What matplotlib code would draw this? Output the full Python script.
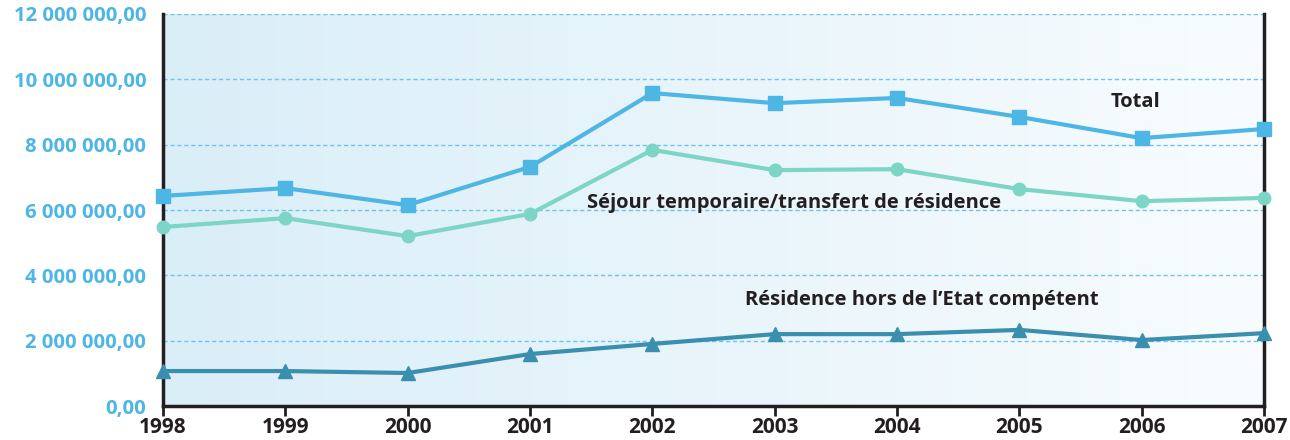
import numpy as np
import matplotlib
matplotlib.use("Agg")
import matplotlib.pyplot as plt
from matplotlib.colors import LinearSegmentedColormap
from matplotlib.ticker import FuncFormatter

years = [1998, 1999, 2000, 2001, 2002, 2003, 2004, 2005, 2006, 2007]
total = [6.43e6, 6.67e6, 6.15e6, 7.32e6, 9.58e6, 9.27e6, 9.43e6, 8.85e6, 8.20e6, 8.48e6]
sejour = [5.48e6, 5.75e6, 5.20e6, 5.88e6, 7.84e6, 7.22e6, 7.25e6, 6.64e6, 6.27e6, 6.37e6]
residence = [1.07e6, 1.07e6, 1.01e6, 1.59e6, 1.90e6, 2.20e6, 2.20e6, 2.33e6, 2.02e6, 2.23e6]
yticks = [0, 2e6, 4e6, 6e6, 8e6, 10e6, 12e6]

plt.rcParams['font.family'] = ['Open Sans', 'DejaVu Sans']
plt.rcParams['font.weight'] = 'bold'

fig = plt.figure(figsize=(12.9, 4.4), dpi=100)
ax = fig.add_axes([163/1290, 34/440, (1264-163)/1290, (406-14)/440])

cmap = LinearSegmentedColormap.from_list('bg', ['#daeef8', '#f8fcfe'])
grad = np.linspace(0, 1, 256).reshape(1, -1)
ax.imshow(grad, cmap=cmap, aspect='auto', extent=[0, 1, 0, 1],
          transform=ax.transAxes, zorder=0)

ax.plot(years, total, color='#4db6e4', lw=3, marker='s', ms=9.5, zorder=3, clip_on=False)
ax.plot(years, sejour, color='#7dd5c5', lw=3, marker='o', ms=9, zorder=3, clip_on=False)
ax.plot(years, residence, color='#3a8eae', lw=3, marker='^', ms=10, zorder=3, clip_on=False)

ax.set_xlim(1998, 2007)
ax.set_ylim(0, 12e6)
ax.set_xticks(years)
ax.set_yticks(yticks)

def fmt(v, pos):
    if v == 0:
        return '0,00'
    s = f"{int(v):,}".replace(',', ' ')
    return s + ',00'
ax.yaxis.set_major_formatter(FuncFormatter(fmt))

ax.grid(axis='y', color='#6cc5ec', linestyle=(0, (3, 2)), lw=1, zorder=1)
ax.set_axisbelow(True)
ax.tick_params(axis='y', length=0, pad=12, labelsize=14.6, labelcolor='#4db6e4')
ax.tick_params(axis='x', length=7, width=2, direction='out', pad=1, labelsize=15,
               labelcolor='#231f20', color='#231f20')
for lbl in ax.get_xticklabels() + ax.get_yticklabels():
    lbl.set_fontweight('bold')

ax.spines['top'].set_visible(False)
for s in ['left', 'right', 'bottom']:
    ax.spines[s].set_linewidth(2.5)
    ax.spines[s].set_color('#231f20')

tkw = dict(fontsize=14.5, fontweight='bold', color='#231f20', ha='center', va='center')
ax.text(2005.95, 9.31e6, 'Total', **tkw)
ax.text(2003.16, 6.21e6, 'Séjour temporaire/transfert de résidence', **tkw)
ax.text(2004.2, 3.25e6, 'Résidence hors de l\u2019Etat compétent', **tkw)

fig.savefig('out.png', dpi=100)
